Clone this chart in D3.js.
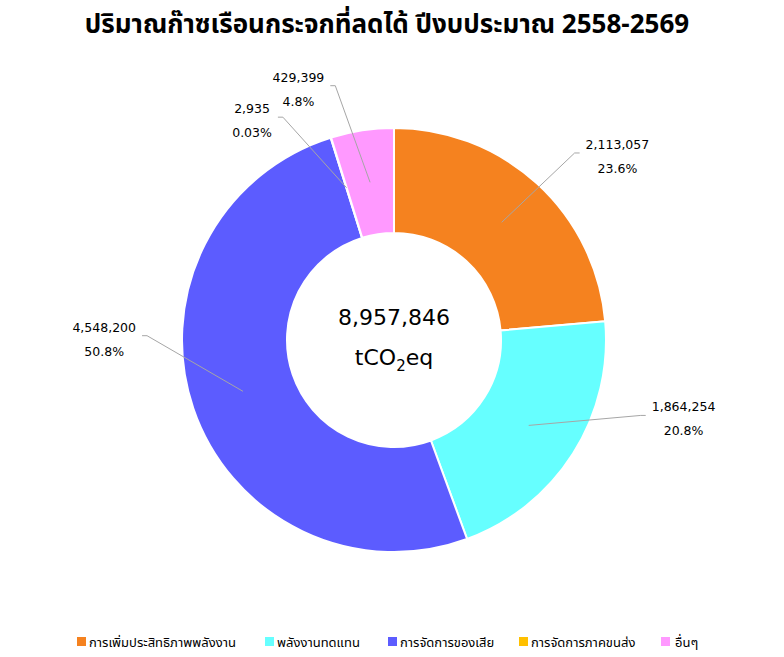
<!DOCTYPE html>
<html>
<head>
<meta charset="utf-8">
<script src="https://cdn.jsdelivr.net/npm/d3@7"></script>
<style>
  body { margin: 0; background: #fff; }
  .lbl { font-family: "DejaVu Sans", sans-serif; fill: #000; }
  .thai { font-family: "Noto Sans Thai", "Loma", "Garuda", "Noto Sans", sans-serif; }
</style>
</head>
<body>
<svg id="chart" width="784" height="657"></svg>
<script>
const categories = ['การเพิ่มประสิทธิภาพพลังงาน', 'พลังงานทดแทน', 'การจัดการของเสีย', 'การจัดการภาคขนส่ง', 'อื่นๆ'];
const values = [2113057, 1864254, 4548200, 2935, 429399];
const percents = ['23.6%', '20.8%', '50.8%', '0.03%', '4.8%'];
const totalLabel = '8,957,846';
const colors = ['#f5821f', '#66ffff', '#5c5cff', '#ffc000', '#ff99ff'];

// where excel put the data labels (degrees clockwise from 12 o'clock, distance from centre)
const labelAngles = [44, 107, 271, 333.5, 347];
const labelRadii = [260, 258, 247, 249, 261];

const svg = d3.select('#chart');
const cx = 394, cy = 340, outerR = 212, innerR = 107;

svg.append('text')
    .attr('class', 'thai')
    .attr('x', 387)
    .attr('y', 33)
    .attr('text-anchor', 'middle')
    .style('font-size', '26px')
    .style('font-weight', 'bold')
    .text('ปริมาณก๊าซเรือนกระจกที่ลดได้ ปีงบประมาณ 2558-2569');

const g = svg.append('g').attr('transform', `translate(${cx},${cy})`);

let pieGenerator = d3.pie().sort(null).value(d => d);
let arcData = pieGenerator(values);

let arcGenerator = d3.arc().innerRadius(innerR).outerRadius(outerR);

g.selectAll('path')
    .data(arcData)
    .enter()
    .append('path')
    .attr('d', arcGenerator)
    .attr('fill', (d, i) => colors[i])
    .attr('stroke', '#fff')
    .attr('stroke-width', 2);

// leader lines + labels
arcData.forEach(function (d, i) {
    let start = arcGenerator.centroid(d);
    let a = labelAngles[i] * Math.PI / 180;
    let r = labelRadii[i];
    let end = [r * Math.sin(a), -r * Math.cos(a)];
    let side = end[0] >= 0 ? 1 : -1;
    let elbow = [end[0] + side * 5, end[1]];

    g.append('polyline')
        .attr('points', [start, end, elbow].map(p => p.join(',')).join(' '))
        .attr('fill', 'none')
        .attr('stroke', '#a6a6a6')
        .attr('stroke-width', 1);

    let lg = g.append('g');
    let t1 = lg.append('text').attr('class', 'lbl').attr('text-anchor', 'middle')
        .style('font-size', '12.5px').attr('y', -7).text(d3.format(',')(values[i]));
    let t2 = lg.append('text').attr('class', 'lbl').attr('text-anchor', 'middle')
        .style('font-size', '12.5px').attr('y', 17).text(percents[i]);
    let w = Math.max(t1.node().getComputedTextLength(), t2.node().getComputedTextLength());
    lg.attr('transform', `translate(${elbow[0] + side * (6 + w / 2)},${elbow[1] + 3})`);
});

// centre total
g.append('text')
    .attr('class', 'lbl')
    .attr('text-anchor', 'middle')
    .attr('y', -15)
    .style('font-size', '22px')
    .text(totalLabel);

let unit = g.append('text')
    .attr('class', 'lbl')
    .attr('text-anchor', 'middle')
    .attr('y', 25)
    .style('font-size', '22px');
unit.append('tspan').text('tCO');
unit.append('tspan').attr('dy', 6).style('font-size', '15px').text('2');
unit.append('tspan').attr('dy', -6).text('eq');

// legend
const legendX = [77, 265, 388, 519, 661];
const legend = svg.append('g').attr('transform', 'translate(0,642)');
categories.forEach(function (c, i) {
    legend.append('rect')
        .attr('x', legendX[i])
        .attr('y', -5)
        .attr('width', 9)
        .attr('height', 9)
        .attr('fill', colors[i]);
    legend.append('text')
        .attr('class', 'thai')
        .attr('x', legendX[i] + (i === 4 ? 14 : 12))
        .attr('y', 5)
        .style('font-size', '13px')
        .text(c);
});
</script>
</body>
</html>
